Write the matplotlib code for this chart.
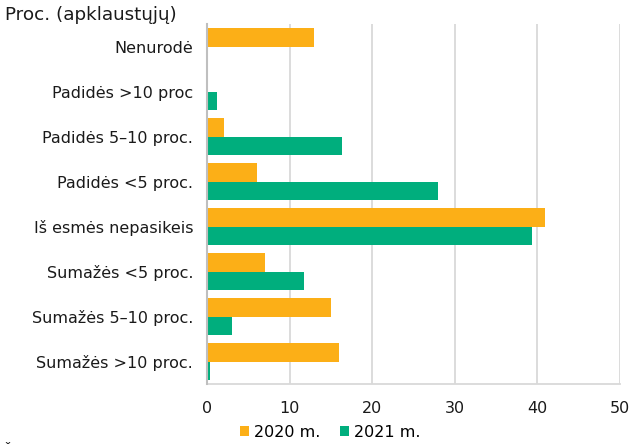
import numpy as np
import matplotlib.pyplot as plt

categories = ['Nenurodė', 'Padidės >10 proc', 'Padidės 5–10 proc.', 'Padidės <5 proc.',
              'Iš esmės nepasikeis', 'Sumažės <5 proc.', 'Sumažės 5–10 proc.', 'Sumažės >10 proc.']
y2020 = [13.0, 0.0, 2.0, 6.0, 40.9, 7.0, 15.0, 16.0]
y2021 = [0.0, 1.2, 16.3, 28.0, 39.4, 11.7, 3.0, 0.4]
xticks = [0, 10, 20, 30, 40, 50]

c2020 = '#FCAF17'
c2021 = '#00AE7D'

fig = plt.figure(figsize=(6.41, 4.45), dpi=100)
ax = fig.add_axes([0.323, 0.137, 0.644, 0.809])

pos = np.arange(len(categories))
h = 0.42
ax.barh(pos - h / 2, y2020, height=h, color=c2020, label='2020 m.', zorder=3)
ax.barh(pos + h / 2, y2021, height=h, color=c2021, label='2021 m.', zorder=3)

ax.set_ylim(len(categories) - 0.5, -0.5)
ax.set_xlim(0, 50)
ax.set_yticks(pos)
ax.set_yticklabels(categories, fontsize=11.5, color='#1a1a1a')
ax.set_xticks(xticks)
ax.set_xticklabels([str(t) for t in xticks], fontsize=11.5, color='#1a1a1a')
ax.tick_params(axis='y', length=0, pad=10)
ax.tick_params(axis='x', length=0, pad=12)

ax.grid(axis='x', color='#D9D9D9', linewidth=1.3, zorder=0)
for s in ['top', 'right']:
    ax.spines[s].set_visible(False)
ax.spines['left'].set_color('#BFBFBF')
ax.spines['left'].set_linewidth(1.5)
ax.spines['left'].set_zorder(4)
ax.spines['bottom'].set_color('#D9D9D9')
ax.spines['bottom'].set_linewidth(1.3)

fig.text(0.008, 0.967, 'Proc. (apklaustųjų)', fontsize=13.2, color='#1a1a1a', va='center')

fig.legend(loc='center', bbox_to_anchor=(0.515, 0.029), ncol=2, frameon=False,
           fontsize=11.5, handlelength=0.6, handleheight=0.6, handletextpad=0.3,
           columnspacing=1.2)

# source note, mostly cut off by the bottom edge as in the original
fig.text(0.005, -0.026, 'Šaltinis', fontsize=11.5, color='#1a1a1a', va='baseline')

fig.savefig('out.png', dpi=100)
